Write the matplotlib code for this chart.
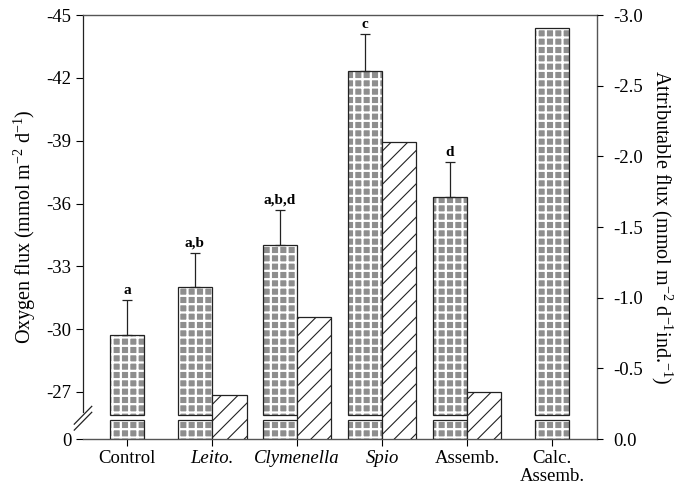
import numpy as np
import matplotlib
matplotlib.use('Agg')
import matplotlib.pyplot as plt

plt.rcParams['font.family'] = ['Liberation Serif', 'DejaVu Serif']
plt.rcParams['mathtext.fontset'] = 'custom'
plt.rcParams['mathtext.rm'] = 'Liberation Serif'
plt.rcParams['mathtext.it'] = 'Liberation Serif:italic'
plt.rcParams['axes.unicode_minus'] = False

# Treatments, oxygen flux (mmol m-2 d-1) with SE and attributable flux per individual
groups = ['Control', 'Leito.', 'Clymenella', 'Spio', 'Assemb.', 'Calc.\nAssemb.']
oxygen_flux = [-29.7, -32.0, -34.0, -42.35, -36.3, -44.4]
oxygen_se = [1.7, 1.65, 1.7, 1.75, 1.7, 0.0]
letters = ['a', 'a,b', 'a,b,d', 'c', 'd', '']
attributable = [np.nan, -0.31, -0.86, -2.10, -0.33, np.nan]

left_ticks = [0, -27, -30, -33, -36, -39, -42, -45]
right_ticks = [0.0, -0.5, -1.0, -1.5, -2.0, -2.5, -3.0]

# Broken oxygen axis: 0..-27 squeezed, -27..-45 linear
BREAK = -27.0
K = 2.245 / 27.0


def fwd(v):
    v = np.asarray(v, dtype=float)
    return np.where(v >= BREAK, v * K, BREAK * K + (v - BREAK))


def inv(y):
    y = np.asarray(y, dtype=float)
    return np.where(y >= BREAK * K, y / K, y - BREAK * K + BREAK)


gap_lo, gap_hi = -11.0, -13.8
w = 0.405
x = np.arange(len(groups))
attr = np.array(attributable)
paired = ~np.isnan(attr)
x_stip = np.where(paired, x - w / 2, x)
x_hatch = x + w / 2

fig = plt.figure(figsize=(6.77, 4.86), dpi=100)
ax = fig.add_axes([0.1226, 0.0967, 0.7592, 0.8724])
ax.set_yscale('function', functions=(fwd, inv))

flux = np.array(oxygen_flux)
# stippled bars (grey blocks split by white lines), broken at the axis break
with plt.rc_context({'hatch.linewidth': 1.6}):
    for lo, hi in [(np.zeros_like(flux), np.full_like(flux, gap_lo)),
                   (np.full_like(flux, gap_hi), flux)]:
        ax.bar(x_stip, hi - lo, bottom=lo, width=w, color='#8e8e8e',
               edgecolor='white', hatch='++', linewidth=0, zorder=2)
        ax.bar(x_stip, hi - lo, bottom=lo, width=w, fill=False,
               edgecolor='#222222', linewidth=0.9, zorder=3)

se = np.array(oxygen_se)
has_se = se > 0
ax.errorbar(x_stip[has_se], flux[has_se],
            yerr=[se[has_se], np.zeros(has_se.sum())],
            fmt='none', ecolor='#222222', elinewidth=0.9, capsize=3.5,
            capthick=0.9, zorder=4)
for xi, f, s, lab in zip(x_stip, flux, se, letters):
    if lab:
        ax.annotate(lab, (xi, f - s), xytext=(0, 2), textcoords='offset points',
                    ha='center', va='bottom', fontsize=11, fontweight='bold')

ax.set_xlim(-0.52, 5.53)
ax.set_ylim(0, -45)
ax.set_yticks(left_ticks)
ax.set_yticklabels([str(t) for t in left_ticks])
ax.set_xticks(x)
ax.set_xticklabels(groups, fontsize=13.5, linespacing=1.08)
for i in (1, 2, 3):
    ax.get_xticklabels()[i].set_fontstyle('italic')
ax.tick_params(axis='y', labelsize=13.5, direction='out', length=5, width=0.8)
ax.tick_params(axis='x', direction='out', length=5, width=0.8, pad=3)
ax.set_ylabel('Oxygen flux (mmol m$^{-2}$ d$^{-1}$)', fontsize=14.5, labelpad=6)

for side in ['top', 'right', 'bottom']:
    ax.spines[side].set_color('#555555')
    ax.spines[side].set_linewidth(1.0)
ax.spines['left'].set_bounds(-15.5, -45)
ax.spines['left'].set_color('#222222')
ax.spines['left'].set_linewidth(0.9)

# break marks on the left spine
for dy in (0.0, -0.014):
    ax.plot([-0.017, 0.017], [0.035 + dy, 0.077 + dy], transform=ax.transAxes,
            color='#222222', lw=0.9, clip_on=False)

# attributable flux on the right axis
ax2 = ax.twinx()
with plt.rc_context({'hatch.linewidth': 0.8}):
    ax2.bar(x_hatch[paired], attr[paired], width=w, color='white',
            edgecolor='#222222', hatch='//', linewidth=0.9, zorder=2)
ax2.set_ylim(0, -3.0)
ax2.set_yticks(right_ticks)
ax2.set_yticklabels(['%.1f' % t for t in right_ticks])
ax2.tick_params(axis='y', labelsize=13.5, direction='out', length=4, width=0.8,
                pad=8)
ax2.set_ylabel('Attributable flux (mmol m$^{-2}$ d$^{-1}$ind.$^{-1}$)',
               fontsize=14.5, rotation=270, labelpad=22)
for s in ax2.spines.values():
    s.set_visible(False)

fig.savefig('out.png', dpi=100)
